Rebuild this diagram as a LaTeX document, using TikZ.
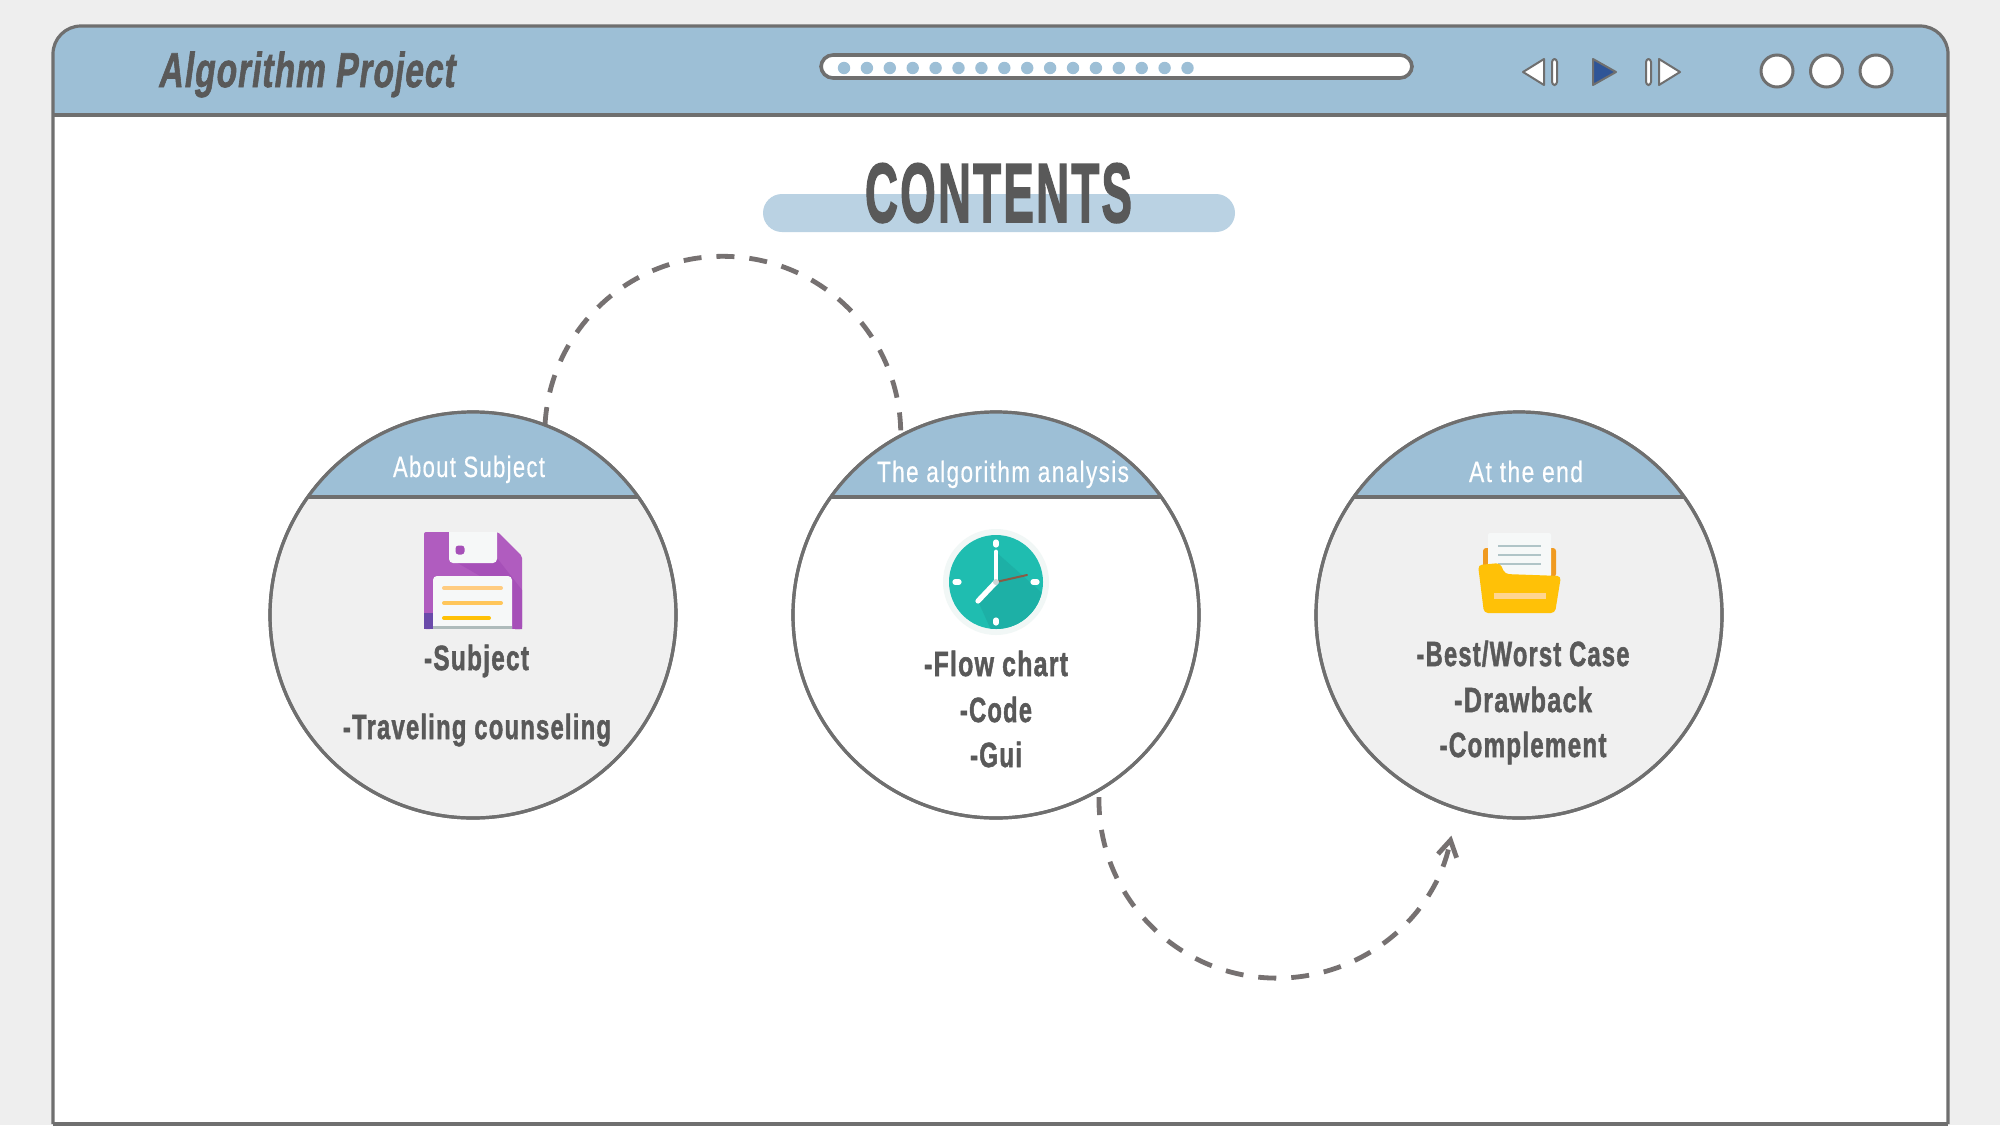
\documentclass[tikz,border=0pt]{standalone}
\usepackage{fontspec}
\usepackage{graphicx}
\usetikzlibrary{arrows.meta}
\setmainfont{Liberation Sans}
\newfontfamily\dinfont[LetterSpace=5,BoldFeatures={FakeBold=1.7}]{Liberation Sans}
\newfontfamily\dinhead[LetterSpace=6,FakeBold=0.5]{Liberation Sans}
\newfontfamily\dintitle[LetterSpace=5,BoldFeatures={FakeBold=2.2}]{Liberation Sans}
\newfontfamily\dinslant[LetterSpace=3,BoldFeatures={FakeBold=1.7,FakeSlant=0.2}]{Liberation Sans}
\definecolor{bgc}{HTML}{EEEEEE}
\definecolor{barc}{HTML}{9DBFD6}
\definecolor{pillc}{HTML}{BAD2E3}
\definecolor{linec}{HTML}{6F6F6F}
\definecolor{dashc}{HTML}{767171}
\definecolor{inkc}{HTML}{595959}
\definecolor{fillc}{HTML}{F0F0F0}
\definecolor{playc}{HTML}{2F5597}
\definecolor{flop}{HTML}{B05CBF}
\definecolor{flopd}{HTML}{A650B8}
\definecolor{flopb}{HTML}{6A4AAA}
\definecolor{paperc}{HTML}{F6F8F8}
\definecolor{paperd}{HTML}{AEBBBB}
\definecolor{ringc}{HTML}{F1F7F6}
\definecolor{tealc}{HTML}{1FBDB0}
\definecolor{teald}{HTML}{1DB0A6}
\definecolor{handc}{HTML}{8A5A44}
\definecolor{foldb}{HTML}{F09A20}
\definecolor{foldf}{HTML}{FFC107}
\definecolor{foldl}{HTML}{FFD591}
\definecolor{papl}{HTML}{B0C4C7}
\definecolor{ylA}{HTML}{FFCC80}
\definecolor{ylB}{HTML}{FFC65A}
\newcommand{\WT}[3]{\resizebox{#1pt}{\height}{\fontsize{#2pt}{#2pt}\selectfont #3}}
\tikzset{
  outl/.style={draw=linec,line width=1.6pt},
  ctrl/.style={draw=linec,line width=1pt,fill=white,line join=round},
  dashln/.style={draw=dashc,line width=2.4pt,dash pattern=on 9pt off 7.5pt},
  roundc/.style={circle,draw=linec,line width=1.6pt,minimum size=203pt,inner sep=0pt},
  body/.style={inner sep=0pt,anchor=base,text=inkc,font=\dinfont\bfseries},
  head/.style={inner sep=0pt,anchor=base,text=white,font=\dinhead},
  dot/.style={circle,fill=barc,inner sep=0pt,minimum size=6.2pt},
  wbtn/.style={circle,draw=linec,line width=1.5pt,fill=white,inner sep=0pt,minimum size=16pt},
  ln/.style={line width=2pt,line cap=round},
}
\begin{document}
\begin{tikzpicture}[x=.5pt,y=.5pt,yscale=-1]
\useasboundingbox (0,0) rectangle (2000,1125);
\fill[bgc] (0,0) rectangle (2000,1125);
% window
\fill[white] (53,100) rectangle (1948,1124);
\fill[barc,rounded corners=14pt] (53,140) -- (53,26) -- (1948,26) -- (1948,140) -- cycle;
\fill[white] (53,115) rectangle (1948,150);
\draw[outl,rounded corners=14pt] (53,1124) -- (53,26) -- (1948,26) -- (1948,1124);
\draw[outl] (53,1124) -- (1948,1124);
\draw[outl,line width=2pt] (53,115) -- (1948,115);
\node[inner sep=0pt,anchor=base,text=inkc,font=\dinslant\bfseries] (apptitle) at (306,87) {\WT{148}{24.5}{Algorithm Project}};
% progress bar
\draw[draw=linec,line width=1.8pt,fill=white,rounded corners=6pt] (821,55) rectangle (1412,78);
\foreach \i in {0,...,15}{\node[dot] (d\i) at ({844+22.9*\i},68) {};}
% player controls
\draw[ctrl] (1544,59) -- (1523,72) -- (1544,85) -- cycle;
\draw[ctrl,rounded corners=1.5pt] (1552,59) rectangle (1557,85);
\draw[draw=linec,line width=1pt,fill=playc,line join=round] (1593,59) -- (1616,72) -- (1593,85) -- cycle;
\draw[ctrl,rounded corners=1.5pt] (1646,59) rectangle (1651,85);
\draw[ctrl] (1659,59) -- (1680,72) -- (1659,85) -- cycle;
\node[wbtn] (b1) at (1777,71) {};
\node[wbtn] (b2) at (1826.5,71) {};
\node[wbtn] (b3) at (1876,71) {};
% title
\fill[pillc,rounded corners=9.5pt] (763,194) rectangle (1235,232);
\node[inner sep=0pt,anchor=base,text=inkc,font=\dintitle\bfseries] (title) at (998.5,222) {\WT{133.5}{42}{CONTENTS}};
% connectors
\coordinate (s1) at (545,425);
\coordinate (s2) at (1099,797);
\draw[dashln] (s1) arc[start angle=183,end angle=359,radius=178];
\draw[dashln,-{Straight Barb[length=8pt,width=9.5pt,line width=2.4pt]}] (s2) arc[start angle=181,end angle=11.5,radius=178];
% circles
\foreach \n/\cx/\col in {c1/473/fillc,c2/996/white,c3/1519/fillc}{
  \node[roundc,fill=\col] (\n) at (\cx,615) {};
  \begin{scope}
    \clip (\cx,615) circle[radius=203];
    \fill[barc] (\cx-210,405) rectangle (\cx+210,497);
    \draw[draw=linec,line width=1.8pt] (\cx-210,497) -- (\cx+210,497);
  \end{scope}
  \node[roundc] at (\cx,615) {};
}
\node[head] (h1) at (469,477) {\WT{76}{14.7}{About Subject}};
\node[head] (h2) at (1003,482) {\WT{126}{14.7}{The algorithm analysis}};
\node[head] (h3) at (1526,482) {\WT{57}{14.7}{At the end}};
\node[body] (t11) at (476.5,670) {\WT{52.5}{17.5}{-Subject}};
\node[body] (t12) at (477,739) {\WT{134}{17.5}{-Traveling counseling}};
\node[body] (t21) at (996,676) {\WT{72}{17.5}{-Flow chart}};
\node[body] (t22) at (996,722) {\WT{36}{17.5}{-Code}};
\node[body] (t23) at (996,767) {\WT{26}{17.5}{-Gui}};
\node[body] (t31) at (1523,666) {\WT{106.5}{17.5}{-Best/Worst Case}};
\node[body] (t32) at (1523,712) {\WT{69}{17.5}{-Drawback}};
\node[body] (t33) at (1523,757) {\WT{83.5}{17.5}{-Complement}};
% floppy icon
\fill[flop,rounded corners=1pt] (424,532) -- (498,532) -- (522,556) -- (522,629) -- (424,629) -- cycle;
\fill[flopd] (449,558) -- (497,558) -- (522,590) -- (522,629) -- (505,629) -- (505,576) -- (480,576) -- cycle;
\fill[flopb] (424,613) -- (433,613) -- (433,629) -- (424,629) -- cycle;
\fill[paperc,rounded corners=2pt] (449,525) -- (449,563) -- (497,563) -- (497,525) -- cycle;
\fill[fillc] (445,525) rectangle (500,532);
\fill[flopd,rounded corners=1.5pt] (455.5,545.5) rectangle (464.5,554.5);
\fill[paperc,rounded corners=2pt] (433,635) -- (433,576) -- (512,576) -- (512,635) -- cycle;
\fill[fillc] (430,629) rectangle (515,636);
\fill[paperd] (433,626) rectangle (512,629);
\draw[ln,draw=ylA] (444,588) -- (501,588);
\draw[ln,draw=ylB] (444,603) -- (501,603);
\draw[ln,draw=foldf] (444,618) -- (489,618);
% clock icon
\fill[ringc] (996,582) circle[radius=53];
\fill[tealc] (996,582) circle[radius=47];
\begin{scope}
  \clip (996,582) circle[radius=47];
  \fill[teald] (996,552) -- (1050,600) -- (1050,650) -- (1000,650) -- (978,601) -- (996,582) -- cycle;
\end{scope}
\draw[white,line width=2.4pt,line cap=round] (996,582) -- (996,552);
\draw[white,line width=2.6pt,line cap=round] (996,582) -- (978,601);
\draw[handc,line width=1pt,line cap=round] (996,582) -- (1027,575);
\fill[paperd!60!white] (996,582) circle[radius=3];
\foreach \a/\b/\c/\d in {996/542/996/545,996/620/996/623,955/582/959/582,1033/582/1037/582}{
  \draw[white,line width=2.6pt,line cap=round] (\a,\b) -- (\c,\d);
}
% folder icon
\fill[foldb,rounded corners=1.5pt] (1483,548) rectangle (1556,577);
\fill[paperc,rounded corners=1pt] (1488,533) rectangle (1551,577);
\foreach \yy in {546,555,564}{\draw[papl,line width=1.3pt] (1498,\yy) -- (1541,\yy);}
\fill[foldf,rounded corners=2pt] (1478,565) -- (1500,563) -- (1505,574) -- (1561,576) -- (1555,613) -- (1484,613) -- cycle;
\fill[foldl] (1494,593) rectangle (1546,599);
\end{tikzpicture}
\end{document}
